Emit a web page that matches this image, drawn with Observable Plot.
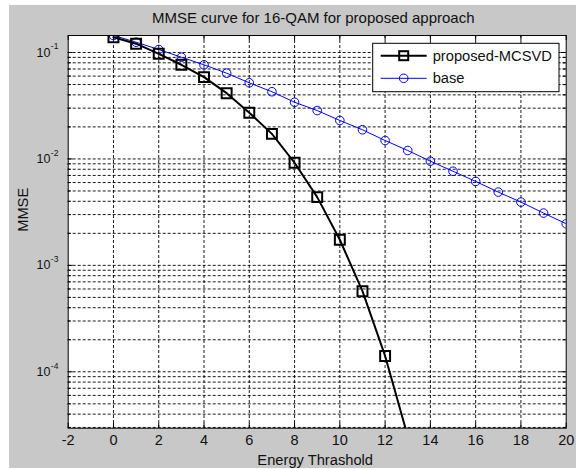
<!DOCTYPE html>
<html>
<head>
<meta charset="utf-8">
<script src="https://cdn.jsdelivr.net/npm/d3@7"></script>
<script src="https://cdn.jsdelivr.net/npm/@observablehq/plot@0.6"></script>
<style>
  html, body { margin: 0; padding: 0; background: white; }
  #wrap { padding-left: 9px; padding-top: 5px; }
</style>
</head>
<body>
<div id="wrap"></div>
<script>
// ---- data ----
const titleText = "MMSE curve for 16-QAM for proposed approach";
const xLabel = "Energy Thrashold";
const yLabel = "MMSE";
const seriesNames = ["proposed-MCSVD", "base"];

const xProposed = [0, 1, 2, 3, 4, 5, 6, 7, 8, 9, 10, 11, 12, 13];
const yProposed = [0.139, 0.121, 0.0972, 0.0767, 0.0587, 0.0415, 0.0272, 0.0172, 0.00921, 0.00438, 0.00174, 0.000572, 0.000141, 0.0000248];

const xBase = [0, 1, 2, 3, 4, 5, 6, 7, 8, 9, 10, 11, 12, 13, 14, 15, 16, 17, 18, 19, 20];
const yBase = [0.1445, 0.125, 0.1067, 0.0903, 0.0766, 0.064, 0.0519, 0.0428, 0.0341, 0.0285, 0.0230, 0.0188, 0.0149, 0.0120, 0.00953, 0.00766, 0.00615, 0.00488, 0.00393, 0.00310, 0.00246];

const xTicks = [-2, 0, 2, 4, 6, 8, 10, 12, 14, 16, 18, 20];
const yDecades = [1e-4, 1e-3, 1e-2, 1e-1];
const yDomain = [Math.pow(10, -4.53), 0.1445];

// ---- derived tables ----
const proposed = xProposed.map((x, i) => ({x, y: yProposed[i]}));
const base = xBase.map((x, i) => ({x, y: yBase[i]}));
const yMinor = [];
for (let e = -5; e <= -1; e++) for (let m = 2; m <= 9; m++) {
  const v = m * Math.pow(10, e);
  if (v >= yDomain[0] && v <= yDomain[1]) yMinor.push(v);
}
const yGrid = yDecades.concat(yMinor);
const xGrid = xTicks.filter(d => d > -2 && d < 20);

const W = 567, H = 463;
const mL = 58.7, mR = 10.3, mT = 30, mB = 40.3;
const plotW = W - mL - mR, plotH = H - mT - mB;
const font = "'Liberation Sans', Arial, Helvetica, sans-serif";
const ink = "#111";
const grid = {stroke: "black", strokeWidth: 1, strokeDasharray: "3,2", strokeOpacity: 0.9};

const chart = Plot.plot({
  width: W, height: H,
  marginLeft: mL, marginRight: mR, marginTop: mT, marginBottom: mB,
  style: {background: "#c8c8c8", fontFamily: font, fontSize: "14px", color: ink, overflow: "visible"},
  x: {domain: [-2, 20], axis: null},
  y: {type: "log", domain: yDomain, axis: null},
  marks: [
    Plot.frame({fill: "white"}),
    Plot.ruleX(xGrid, {x: d => d, ...grid}),
    Plot.ruleY(yGrid, {y: d => d, ...grid}),
    // ticks (inside, all four sides)
    Plot.tickX(xTicks, {x: d => d, insetTop: plotH - 5, stroke: "black"}),
    Plot.tickX(xTicks, {x: d => d, insetBottom: plotH - 5, stroke: "black"}),
    Plot.tickY(yDecades, {y: d => d, insetRight: plotW - 5, stroke: "black"}),
    Plot.tickY(yDecades, {y: d => d, insetLeft: plotW - 5, stroke: "black"}),
    Plot.tickY(yMinor, {y: d => d, insetRight: plotW - 3, stroke: "black"}),
    Plot.tickY(yMinor, {y: d => d, insetLeft: plotW - 3, stroke: "black"}),
    // series
    Plot.line(base, {x: "x", y: "y", stroke: "#0000ff", strokeWidth: 1, clip: true}),
    Plot.dot(base, {x: "x", y: "y", r: 4.3, stroke: "#0000ff", strokeWidth: 1, fill: "none", clip: true}),
    Plot.line(proposed, {x: "x", y: "y", stroke: "black", strokeWidth: 2, clip: true}),
    Plot.dot(proposed, {x: "x", y: "y", symbol: "square", r: 5.6, stroke: "black", strokeWidth: 2, fill: "none", clip: true}),
    Plot.frame({stroke: "black", strokeWidth: 1}),
    // axes
    Plot.text(xTicks, {x: d => d, frameAnchor: "bottom", text: d => String(d), dy: 12.5, lineAnchor: "middle", fontSize: 14.5, fill: ink}),
    Plot.text(yDecades, {y: d => d, frameAnchor: "left", text: () => "10", textAnchor: "end", dx: -17.7, fontSize: 12.5, fill: ink}),
    Plot.text(yDecades, {y: d => d, frameAnchor: "left", text: d => String(Math.round(Math.log10(d))), textAnchor: "start", dx: -17.4, dy: -6, fontSize: 8.5, fill: ink}),
    Plot.text([titleText], {frameAnchor: "top", text: d => d, dx: -4, dy: -17, lineAnchor: "middle", fontSize: 15, fill: ink}),
    Plot.text([xLabel], {frameAnchor: "bottom", text: d => d, dx: -2, dy: 32.3, lineAnchor: "middle", fontSize: 14.7, fill: ink}),
    Plot.text([yLabel], {frameAnchor: "left", text: d => d, dx: -44.7, dy: 0, rotate: -90, lineAnchor: "middle", fontSize: 14.7, fill: ink})
  ]
});

// legend inside the axes (top-right)
const svg = d3.select(chart);
const lg = svg.append("g").attr("font-family", font).attr("font-size", 14.7).attr("text-anchor", "start");
lg.append("rect").attr("x", 363.7).attr("y", 38.3).attr("width", 186.3).attr("height", 48.4)
  .attr("fill", "white").attr("stroke", "black").attr("stroke-width", 1);
const rows = [
  {name: seriesNames[0], y: 50.7, color: "black", w: 2, sym: "square"},
  {name: seriesNames[1], y: 73.3, color: "#0000ff", w: 1, sym: "circle"}
];
rows.forEach(r => {
  lg.append("line").attr("x1", 371.7).attr("x2", 417.7).attr("y1", r.y).attr("y2", r.y)
    .attr("stroke", r.color).attr("stroke-width", r.w);
  if (r.sym === "square") {
    lg.append("rect").attr("x", 394.7 - 4.5).attr("y", r.y - 4.5).attr("width", 9).attr("height", 9)
      .attr("fill", "none").attr("stroke", r.color).attr("stroke-width", 2);
  } else {
    lg.append("circle").attr("cx", 394.7).attr("cy", r.y).attr("r", 4.3)
      .attr("fill", "none").attr("stroke", r.color).attr("stroke-width", 1);
  }
  lg.append("text").attr("x", 423.7).attr("y", r.y).attr("dy", "0.35em").attr("text-anchor", "start")
    .attr("fill", ink).text(r.name);
});

document.getElementById("wrap").appendChild(chart);
</script>
</body>
</html>
